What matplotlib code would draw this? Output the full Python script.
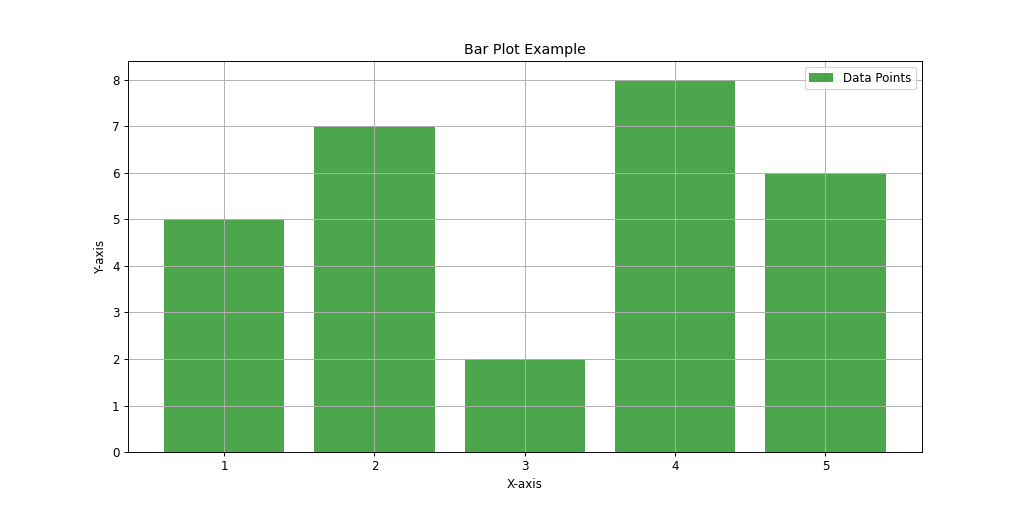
import matplotlib
matplotlib.use('Agg')
import matplotlib.pyplot as plt

categories = [1, 2, 3, 4, 5]
values = [5, 7, 2, 8, 6]

fig, ax = plt.subplots(figsize=(12, 508 / (1024 / 12)), dpi=1024 / 12)
ax.bar(categories, values, color='green', alpha=0.7, label='Data Points')
ax.set_title('Bar Plot Example')
ax.set_xlabel('X-axis')
ax.set_ylabel('Y-axis')
ax.legend()
ax.grid(True)
fig.savefig('out.png')
